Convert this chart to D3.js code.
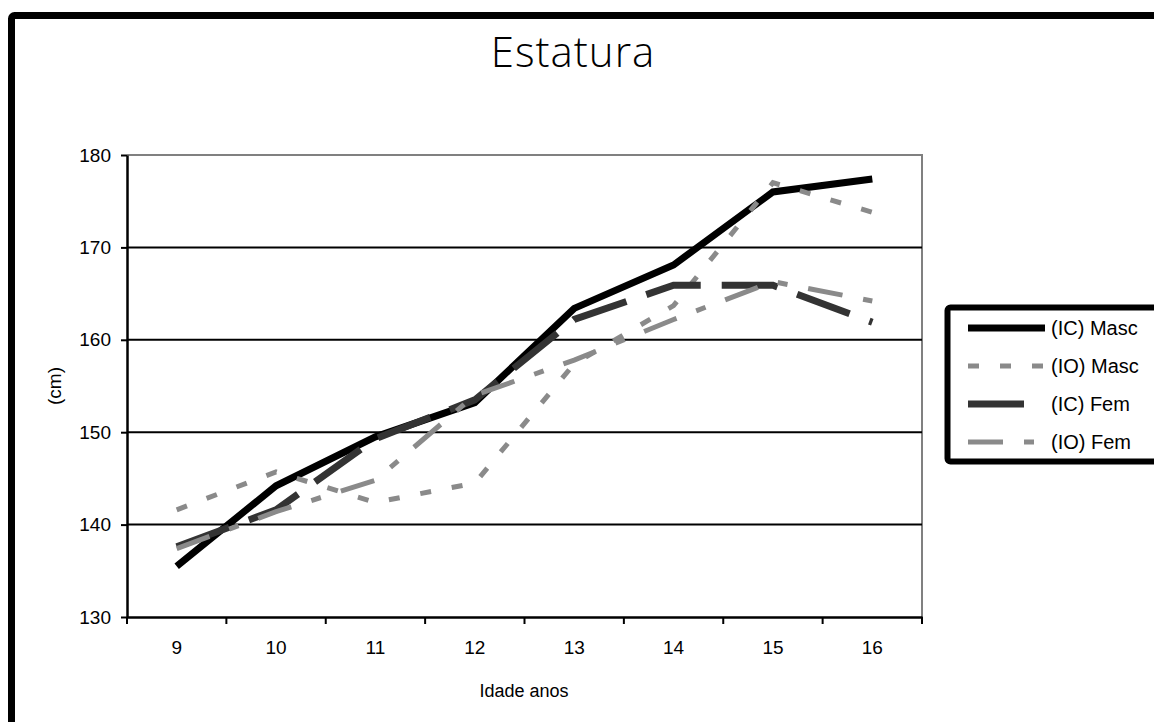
<!DOCTYPE html>
<html>
<head>
<meta charset="utf-8">
<script src="https://cdn.jsdelivr.net/npm/d3@7"></script>
<style>
  body { margin: 0; background: #fff; }
  text { font-family: "Liberation Sans", Arial, sans-serif; }
</style>
</head>
<body>
<svg id="chart" width="1154" height="722"></svg>
<script>
var ages = ["9", "10", "11", "12", "13", "14", "15", "16"];
var yTicks = [130, 140, 150, 160, 170, 180];

var icMasc = [135.5, 144.2, 149.5, 153.2, 163.4, 168.1, 176.0, 177.4];
var ioMasc = [141.6, 145.7, 142.4, 144.5, 157.4, 163.7, 177.0, 173.8];
var icFem  = [137.6, 141.6, 149.3, 153.5, 162.2, 165.9, 165.9, 161.9];
var ioFem  = [137.4, 141.4, 144.8, 154.0, 157.8, 162.2, 166.3, 164.2];

var seriesNames = ["(IC) Masc", "(IO) Masc", "(IC) Fem", "(IO) Fem"];

var series = [
  {name: seriesNames[0], values: icMasc, color: "#000", width: 7, dash: null},
  {name: seriesNames[1], values: ioMasc, color: "#8a8a8a", width: 5, dash: "11,21"},
  {name: seriesNames[2], values: icFem,  color: "#333", width: 7, dash: "56,21"},
  {name: seriesNames[3], values: ioFem,  color: "#8a8a8a", width: 5, dash: "35,21,10,21"}
];

var svg = d3.select("#chart");

// outer chart border (runs off the right and bottom)
svg.append("rect")
    .attr("x", 11.5).attr("y", 15.5)
    .attr("width", 1200).attr("height", 800)
    .attr("rx", 3)
    .attr("fill", "none")
    .attr("stroke", "#000")
    .attr("stroke-width", 7);

svg.append("text")
    .attr("x", 573).attr("y", 67)
    .attr("text-anchor", "middle")
    .style("font-family", "'Open Sans', 'Liberation Sans', sans-serif")
    .style("font-weight", 300)
    .style("font-size", "42px")
    .style("letter-spacing", "1px")
    .text("Estatura");

var pLeft = 127, pRight = 922, pTop = 155, pBottom = 617;

var x = d3.scaleBand().domain(ages).range([pLeft, pRight]);
var y = d3.scaleLinear().domain([130, 180]).range([pBottom, pTop]);

// plot frame top/right in gray
svg.append("path")
    .attr("d", "M" + pLeft + "," + pTop + "H" + pRight + "V" + pBottom)
    .attr("fill", "none")
    .attr("stroke", "#808080")
    .attr("stroke-width", 2);

// gridlines
svg.selectAll("line.grid")
    .data(yTicks.filter(function(d){ return d > 130 && d < 180 }))
    .enter().append("line")
    .attr("class", "grid")
    .attr("x1", pLeft).attr("x2", pRight)
    .attr("y1", function(d){ return y(d) }).attr("y2", function(d){ return y(d) })
    .attr("stroke", "#000")
    .attr("stroke-width", 2);

// y axis
var yAxis = svg.append("g")
    .attr("transform", "translate(" + pLeft + ",0)")
    .call(d3.axisLeft(y).tickValues(yTicks).tickSize(6).tickPadding(10).tickSizeOuter(0));
yAxis.select(".domain").attr("stroke-width", 2.5);
yAxis.selectAll(".tick line").attr("stroke-width", 2);
yAxis.selectAll("text").style("font-size", "19px").attr("fill", "#000");

// x axis with ticks between categories
var xAxis = svg.append("g")
    .attr("transform", "translate(0," + pBottom + ")")
    .call(d3.axisBottom(x).tickSize(0).tickPadding(24));
xAxis.select(".domain").attr("stroke-width", 2.5);
xAxis.selectAll("text").style("font-size", "19px").attr("fill", "#000");
var bounds = ages.map(function(d){ return x(d) }).concat([pRight]);
xAxis.selectAll("line.sep")
    .data(bounds).enter().append("line")
    .attr("class", "sep")
    .attr("x1", function(d){ return d }).attr("x2", function(d){ return d })
    .attr("y1", 0).attr("y2", 7)
    .attr("stroke", "#000").attr("stroke-width", 2);

svg.append("text")
    .attr("x", 524).attr("y", 697)
    .attr("text-anchor", "middle")
    .style("font-size", "18px")
    .text("Idade anos");

svg.append("text")
    .attr("transform", "translate(61,386) rotate(-90)")
    .attr("text-anchor", "middle")
    .style("font-size", "19px")
    .text("(cm)");

// lines
var line = d3.line()
    .x(function(d, i){ return x(ages[i]) + x.bandwidth() / 2 })
    .y(function(d){ return y(d) });

svg.selectAll("path.series")
    .data(series).enter().append("path")
    .attr("class", "series")
    .attr("d", function(d){ return line(d.values) })
    .attr("fill", "none")
    .attr("stroke", function(d){ return d.color })
    .attr("stroke-width", function(d){ return d.width })
    .attr("stroke-dasharray", function(d){ return d.dash })
    .attr("stroke-linejoin", "miter");

// legend
var legend = svg.append("g");
legend.append("rect")
    .attr("x", 947.5).attr("y", 307.5)
    .attr("width", 260).attr("height", 154)
    .attr("rx", 3)
    .attr("fill", "#fff")
    .attr("stroke", "#000")
    .attr("stroke-width", 6);

var rows = legend.selectAll("g.row")
    .data(series).enter().append("g")
    .attr("class", "row")
    .attr("transform", function(d, i){ return "translate(0," + (328 + i * 38) + ")" });
rows.append("line")
    .attr("x1", 968).attr("x2", 1045)
    .attr("stroke", function(d){ return d.color })
    .attr("stroke-width", function(d){ return d.width })
    .attr("stroke-dasharray", function(d){ return d.dash });
rows.append("text")
    .attr("x", 1051).attr("y", 7)
    .style("font-size", "20px")
    .text(function(d){ return d.name });
</script>
</body>
</html>
